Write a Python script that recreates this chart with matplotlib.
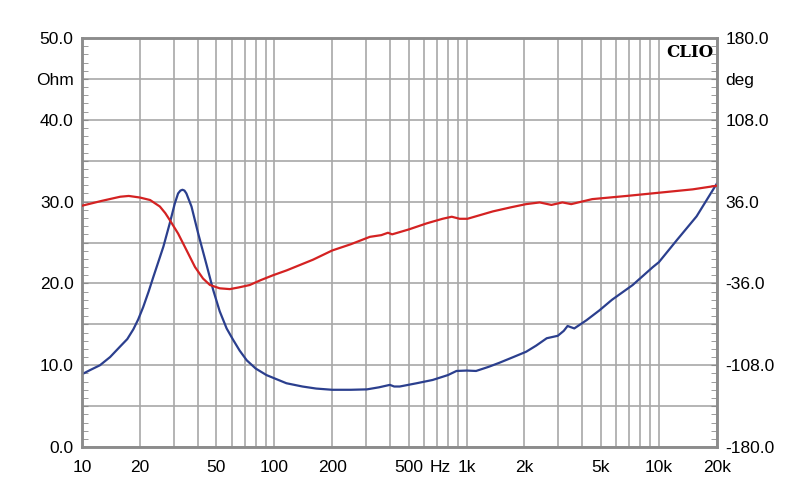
import numpy as np
import matplotlib.pyplot as plt
from matplotlib.ticker import FixedLocator, MultipleLocator, NullFormatter

# impedance (blue), Hz / Ohm
f_imp = [10, 11, 12.4, 14, 15.8, 17.2, 18.5, 19.6, 20.8, 22.2, 23.5, 25, 26.5, 28.6, 30.4,
         31.6, 32.5, 33.3, 34.1, 34.9, 37.1, 40.2, 44.4, 48.1, 52, 56.5, 61.1, 66,
         71.9, 80, 91, 115.6, 140, 165, 200, 250, 303, 350, 399, 420, 449, 550, 666,
         800, 886, 1000, 1120, 1300, 1480, 1750, 2040, 2300, 2610, 2980, 3200, 3350,
         3630, 4200, 4900, 5700, 7300, 9300, 10000, 12400, 15700, 20000]
z_imp = [8.9, 9.4, 10.0, 11.0, 12.3, 13.2, 14.4, 15.6, 17.1, 19.0, 20.8, 22.7, 24.5, 27.35, 29.8,
         31.0, 31.35, 31.45, 31.35, 31.0, 29.4, 26.1, 22.3, 19.2, 16.6, 14.5, 13.1, 11.8,
         10.6, 9.6, 8.8, 7.8, 7.4, 7.15, 7.0, 7.0, 7.05, 7.3, 7.6, 7.4, 7.4, 7.8, 8.2,
         8.8, 9.3, 9.35, 9.3, 9.8, 10.3, 11.0, 11.65, 12.4, 13.3, 13.6, 14.2, 14.8,
         14.5, 15.5, 16.7, 18.0, 19.8, 22.0, 22.6, 25.3, 28.2, 32.2]

# phase (red), Hz / deg
f_ph = [10, 12.7, 15.8, 17.5, 20, 22.6, 25.4, 27.1, 28.6, 31.6, 34.9, 38.7, 42.6, 46.3,
        52, 58.7, 65, 74.5, 85, 98.5, 116, 159, 200, 250, 314, 360, 390, 410, 500, 621,
        750, 837, 920, 1010, 1370, 1700, 2040, 2400, 2760, 3150, 3500, 4500, 6800,
        10100, 15000, 20000]
ph = [32.4, 36.7, 40.3, 41.0, 39.6, 37.4, 31.7, 25.9, 19.8, 7.9, -6.5, -21.6, -31.7, -37.4,
      -40.3, -41.0, -39.6, -37.4, -33.1, -28.8, -24.5, -15.1, -7.0, -1.5, 5.0, 6.5,
      8.6, 7.2, 11.5, 16.9, 20.9, 22.7, 20.9, 20.9, 27.4, 31.0, 33.8, 35.3, 33.1, 35.3,
      33.8, 38.2, 41.0, 43.9, 46.8, 50.0]

xt = [10, 20, 50, 100, 200, 500, 1000, 2000, 5000, 10000, 20000]
xtl = ['10', '20', '50', '100', '200', '500', '1k', '2k', '5k', '10k', '20k']

plt.rcParams['font.family'] = ['Liberation Sans', 'DejaVu Sans']
grid_c = '#a8a8a8'
spine_c = '#8c8c8c'

fig = plt.figure(figsize=(8, 5.04), dpi=100)
ax = fig.add_axes([0.1025, 0.113, 0.7935, 0.8116])
ax2 = ax.twinx()

ax.set_xscale('log')
ax.set_xlim(10, 20000)
ax.set_ylim(0, 50)
ax2.set_ylim(-180, 180)

ax.plot(f_imp, z_imp, color='#2b3f8e', lw=1.6, zorder=3)
ax2.plot(f_ph, ph, color='#d42222', lw=1.6, zorder=3)

# x grid on every decade step
vgrid = [m * 10 ** e for e in range(1, 5) for m in range(1, 10) if m * 10 ** e <= 20000]
ax.xaxis.set_major_locator(FixedLocator(xt))
ax.set_xticklabels(xtl)
ax.xaxis.set_minor_locator(FixedLocator(vgrid))
ax.xaxis.set_minor_formatter(NullFormatter())
ax.grid(True, which='both', axis='x', color=grid_c, lw=1.2)
ax.tick_params(axis='x', which='both', length=0, pad=9, labelsize=12.5)
ax.text(730, -12.5 / 409, 'Hz', transform=ax.get_xaxis_transform(), ha='center', va='top',
        fontsize=12.5)

ly = np.arange(0, 51, 5)
ax.set_yticks(ly)
ax.set_yticklabels(['%.1f' % v if v % 10 == 0 else ('Ohm' if v == 45 else '') for v in ly])
ax.yaxis.set_minor_locator(MultipleLocator(1))
ax.grid(True, which='major', axis='y', color=grid_c, lw=1.2)
ax.tick_params(axis='y', which='both', direction='in', length=4, color=spine_c,
               labelsize=12.5, pad=6)

ry = np.arange(-180, 181, 36)
ax2.set_yticks(ry)
ax2.set_yticklabels(['%.1f' % v if v % 72 == 36 or abs(v) == 180 else ('deg' if v == 144 else '')
                     for v in ry])
ax2.yaxis.set_minor_locator(MultipleLocator(7.2))
ax2.tick_params(axis='y', which='both', direction='in', length=4, color=spine_c,
                labelsize=12.5, pad=6)

for a in (ax, ax2):
    for s in a.spines.values():
        s.set_color(spine_c)
        s.set_linewidth(1.8)

ax.text(0.995, 0.985, 'CLIO', transform=ax.transAxes, ha='right', va='top',
        family='DejaVu Serif', weight='bold', fontsize=12)

fig.savefig('out.png', dpi=100)
